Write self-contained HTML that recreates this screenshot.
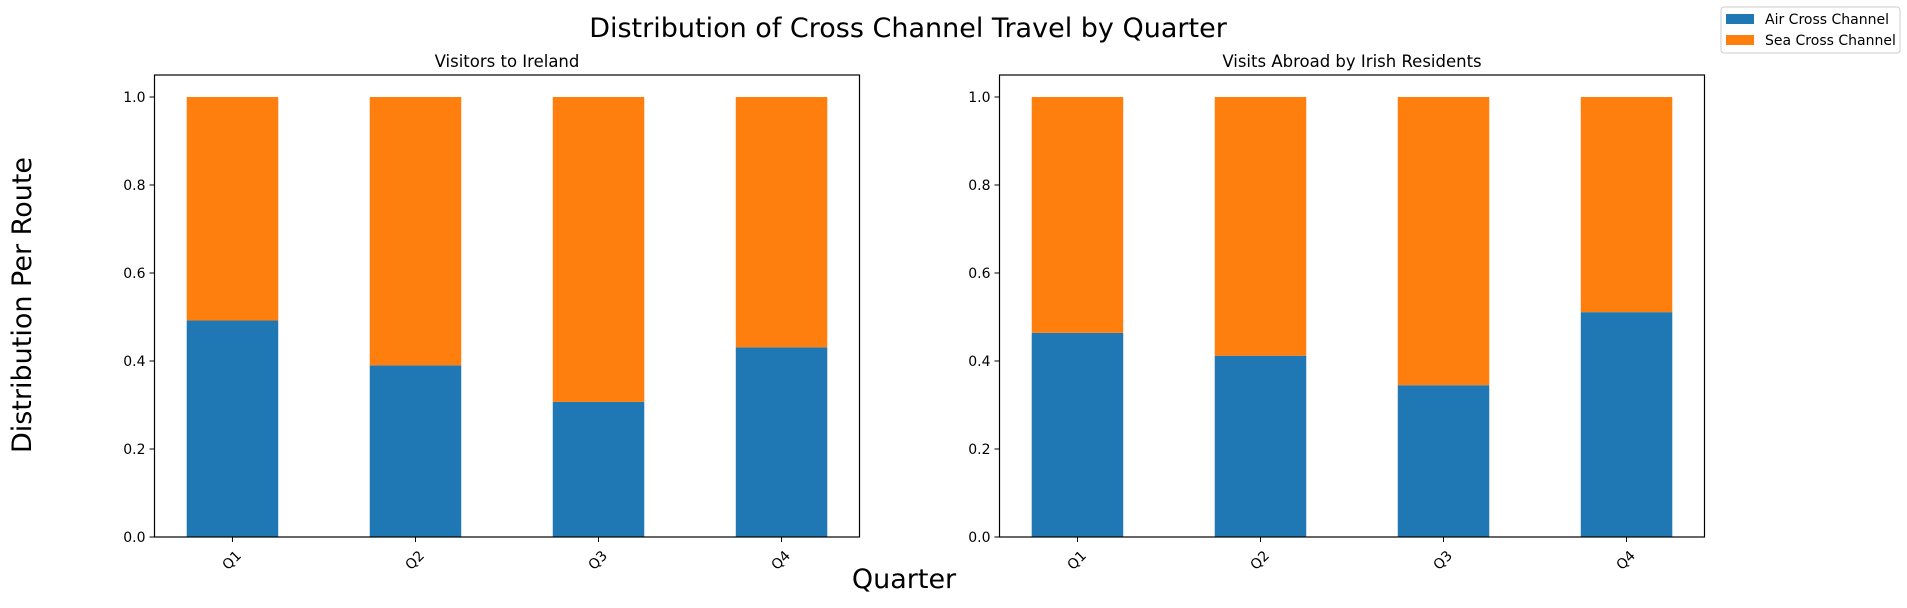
<!DOCTYPE html>
<html><head><meta charset="utf-8"><style>
body{margin:0;background:#fff;}
svg text{font-family:"DejaVu Sans","Liberation Sans",sans-serif;fill:#000;}
</style></head><body>
<svg id="chart" width="1907" height="603" xmlns="http://www.w3.org/2000/svg">
<text x="908" y="37" font-size="27" text-anchor="middle">Distribution of Cross Channel Travel by Quarter</text>
<text transform="translate(31,305) rotate(-90)" font-size="27" text-anchor="middle">Distribution Per Route</text>
<text x="904" y="588" font-size="27" text-anchor="middle">Quarter</text>
<g>
<rect x="1721" y="7" width="179" height="46" rx="3" fill="#fff" stroke="#ccc"/>
<rect x="1726" y="14" width="28" height="10" fill="#1f77b4"/>
<text x="1765" y="24" font-size="14">Air Cross Channel</text>
<rect x="1726" y="35" width="28" height="10" fill="#ff7f0e"/>
<text x="1765" y="45" font-size="14">Sea Cross Channel</text>
</g>
</svg>
<script>
const categories = ["Q1","Q2","Q3","Q4"];
const visitorsAir = [0.492,0.390,0.307,0.431];
const residentsAir = [0.464,0.412,0.345,0.511];
const yTicks = [0,0.2,0.4,0.6,0.8,1.0];
const yTickLabels = ["0.0","0.2","0.4","0.6","0.8","1.0"];
const panelTitles = ["Visitors to Ireland","Visits Abroad by Irish Residents"];

const NS="http://www.w3.org/2000/svg";
const svg=document.getElementById('chart');
function mk(tag,attrs,parent){const e=document.createElementNS(NS,tag);for(const k in attrs)e.setAttribute(k,attrs[k]);(parent||svg).appendChild(e);return e;}

function panel(left,airVals,title,idx){
  const right=left+705, top=75, bottom=537;
  const xlo=-0.426, xhi=3.426;
  const xs=v=>left+(v-xlo)/(xhi-xlo)*(right-left);
  const ys=v=>bottom-v/1.05*(bottom-top);
  const g=mk('g',{});
  
  
  const t=mk('text',{x:(left+right)/2,y:67,'font-size':16.5,'text-anchor':'middle'},g);
  t.textContent=title;
  
  
  airVals.forEach((v,i)=>{
    const x0=xs(i-0.25), x1=xs(i+0.25);
    const a=mk('rect',{x:x0,y:ys(v),width:x1-x0,height:ys(0)-ys(v),fill:'#1f77b4'},g);
    
    
    const s=mk('rect',{x:x0,y:ys(1),width:x1-x0,height:ys(v)-ys(1),fill:'#ff7f0e'},g);
    
    
    const tk=mk('line',{x1:xs(i),x2:xs(i),y1:bottom,y2:bottom+5,stroke:'#000','stroke-width':1},g);
    
    
    const cx=xs(i)-1, cy=bottom+23;
    const lb=mk('text',{x:cx,y:cy+5,'font-size':14,'text-anchor':'middle',transform:`rotate(-45 ${cx} ${cy})`},g);
    lb.textContent=categories[i];
    
    
  });
  yTicks.forEach((v,i)=>{
    const tk=mk('line',{x1:left-5,x2:left,y1:ys(v),y2:ys(v),stroke:'#000','stroke-width':1},g);
    
    
    const lb=mk('text',{x:left-9,y:ys(v)+5,'font-size':14,'text-anchor':'end'},g);
    lb.textContent=yTickLabels[i];
    
    
  });
  const fr=mk('rect',{x:left,y:top,width:right-left,height:bottom-top,fill:'none',stroke:'#000','stroke-width':1.2},g);
  
  
}
panel(154.5,visitorsAir,panelTitles[0],0);
panel(999.5,residentsAir,panelTitles[1],1);
</script>
</body></html>
